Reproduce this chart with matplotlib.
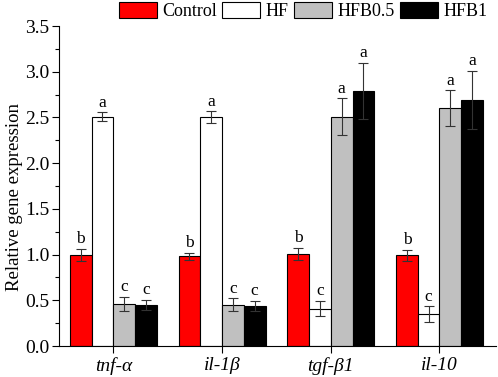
import numpy as np
import matplotlib
matplotlib.use('Agg')
import matplotlib.pyplot as plt
from matplotlib.ticker import MultipleLocator

plt.rcParams['font.family'] = ['Liberation Serif', 'DejaVu Serif']
plt.rcParams['mathtext.fontset'] = 'stix'

genes = ['tnf-α', 'il-1β', 'tgf-β1', 'il-10']
groups = ['Control', 'HF', 'HFB0.5', 'HFB1']
colors = ['#ff0000', '#ffffff', '#c0c0c0', '#000000']

# mean values per group (rows) for each gene (columns)
means = {
    'Control': [1.00, 0.98, 1.01, 0.99],
    'HF':      [2.51, 2.50, 0.41, 0.35],
    'HFB0.5':  [0.46, 0.45, 2.51, 2.60],
    'HFB1':    [0.45, 0.44, 2.79, 2.69],
}
errors = {
    'Control': [0.065, 0.04, 0.065, 0.065],
    'HF':      [0.05, 0.065, 0.085, 0.085],
    'HFB0.5':  [0.08, 0.07, 0.20, 0.195],
    'HFB1':    [0.055, 0.055, 0.31, 0.32],
}
letters = {
    'Control': ['b', 'b', 'b', 'b'],
    'HF':      ['a', 'a', 'c', 'c'],
    'HFB0.5':  ['c', 'c', 'a', 'a'],
    'HFB1':    ['c', 'c', 'a', 'a'],
}

fig = plt.figure(figsize=(4.98, 3.77), dpi=100)
ax = fig.add_axes([0.1185, 0.0822, 0.8775, 0.8488])

x = np.arange(len(genes))
width = 0.2
offsets = [-0.3, -0.1, 0.1, 0.3]

handles = []
for g, off, c in zip(groups, offsets, colors):
    b = ax.bar(x + off, means[g], width, color=c, edgecolor='black', linewidth=0.8,
               label=g, zorder=2)
    handles.append(b)
    ax.errorbar(x + off, means[g], yerr=errors[g], fmt='none', ecolor='#333333',
                elinewidth=0.8, capsize=3.5, capthick=0.8, zorder=3)
    for xi, m, e, lt in zip(x + off, means[g], errors[g], letters[g]):
        ax.annotate(lt, (xi, m + e), xytext=(0, 1), textcoords='offset points',
                    ha='center', va='bottom', fontsize=12.5)

ax.set_xlim(-0.5, 3.52)
ax.set_ylim(0, 3.5)
ax.set_xticks(x)
ax.set_xticklabels(genes, style='italic', fontsize=14)
ax.yaxis.set_major_locator(MultipleLocator(0.5))
ax.yaxis.set_minor_locator(MultipleLocator(0.25))
ax.yaxis.set_major_formatter(matplotlib.ticker.FormatStrFormatter('%.1f'))
ax.tick_params(axis='y', labelsize=14, direction='out', length=5, width=0.8, pad=2)
ax.tick_params(axis='y', which='minor', length=3, width=0.8)
ax.tick_params(axis='x', direction='out', length=5, width=0.8, pad=3)
ax.set_ylabel('Relative gene expression', fontsize=13.5)
ax.yaxis.set_label_coords(-0.082, 0.466)
ax.spines['top'].set_visible(False)
ax.spines['right'].set_visible(False)
for s in ['left', 'bottom']:
    ax.spines[s].set_linewidth(0.8)

fig.legend(handles=handles, labels=groups, loc='center', ncol=4, frameon=False,
           bbox_to_anchor=(303 / 498, 1 - 11 / 377), fontsize=13,
           handlelength=2.1, handleheight=1.0, handletextpad=0.3,
           columnspacing=0.3, borderaxespad=0)

fig.savefig('out.png', dpi=100)
